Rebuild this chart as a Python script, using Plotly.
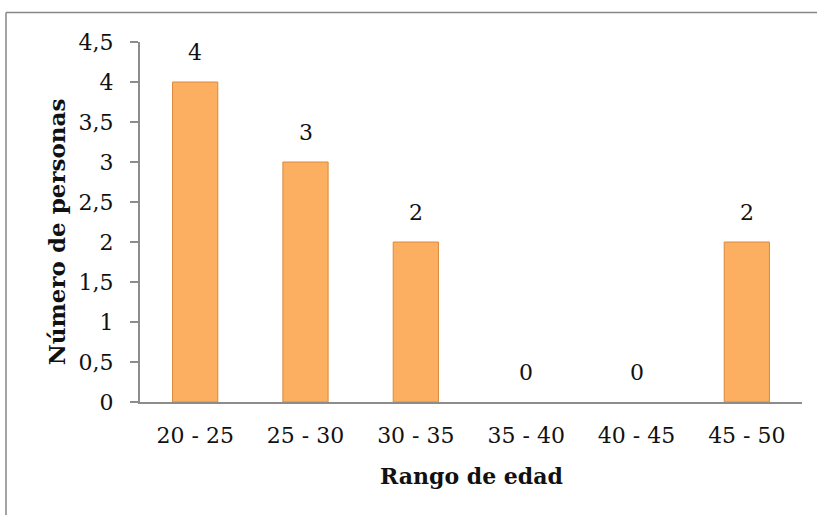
import plotly.graph_objects as go

categories = ["20 - 25", "25 - 30", "30 - 35", "35 - 40", "40 - 45", "45 - 50"]
personas = [4, 3, 2, 0, 0, 2]
y_ticks = [0, 0.5, 1, 1.5, 2, 2.5, 3, 3.5, 4, 4.5]
x_title = "Rango de edad"
y_title = "Número de personas"

W, H = 817, 515
L, R, T, B = 140, 15, 41.5, 113
pw, ph = W - L - R, H - T - B


def px(xp):
    return (xp - L) / pw


def py(yp):
    return (H - B - yp) / ph


FONT = "DejaVu Serif"
AX = "#8c8c8c"

fig = go.Figure()
fig.add_trace(go.Bar(
    x=categories, y=personas,
    marker=dict(color="#FCAF60",
                line=dict(color="#D98A3C", width=[1 if v > 0 else 0 for v in personas])),
    width=0.41,
    hoverinfo="x+y",
))

for c, v in zip(categories, personas):
    fig.add_annotation(x=c, y=v, text=str(v), showarrow=False, yanchor="bottom",
                       yshift=15, font=dict(family=FONT, size=22, color="#111"))

fig.add_annotation(x=px(56), y=py(232), xref="paper", yref="paper", text=y_title,
                   textangle=-90, showarrow=False, xanchor="center", yanchor="middle",
                   font=dict(family=FONT, size=23, color="#111", weight="bold"))
fig.add_annotation(x=px(471), y=py(476), xref="paper", yref="paper", text=x_title,
                   showarrow=False, xanchor="center", yanchor="middle",
                   font=dict(family=FONT, size=22, color="#111", weight="bold"))

# chart frame (top and left edges)
fig.add_shape(type="line", xref="paper", yref="paper", x0=px(6), x1=px(W + 5), y0=py(12), y1=py(12),
              line=dict(color="#868686", width=1.5))
fig.add_shape(type="line", xref="paper", yref="paper", x0=px(6), x1=px(6), y0=py(12), y1=py(H + 5),
              line=dict(color="#868686", width=1.5))

fig.update_layout(
    width=W, height=H,
    margin=dict(l=L, r=R, t=T, b=B),
    paper_bgcolor="white", plot_bgcolor="white",
    separators=",.",
    showlegend=False,
    font=dict(family=FONT, size=22, color="#111"),
)
fig.update_xaxes(
    type="category", showline=True, linecolor=AX, linewidth=2, ticks="",
    showgrid=False, zeroline=False, ticklabelstandoff=13,
    tickfont=dict(family=FONT, size=22, color="#111"),
)
fig.update_yaxes(
    range=[0, 4.5], tickvals=y_ticks, showline=True, linecolor=AX, linewidth=2,
    ticks="outside", ticklen=8, tickcolor=AX, tickwidth=2,
    showgrid=False, zeroline=False, ticklabelstandoff=12,
    tickfont=dict(family=FONT, size=22, color="#111"),
)

fig.write_html("out.html", config={"displayModeBar": False},
               post_script="document.body.style.margin='0';")
